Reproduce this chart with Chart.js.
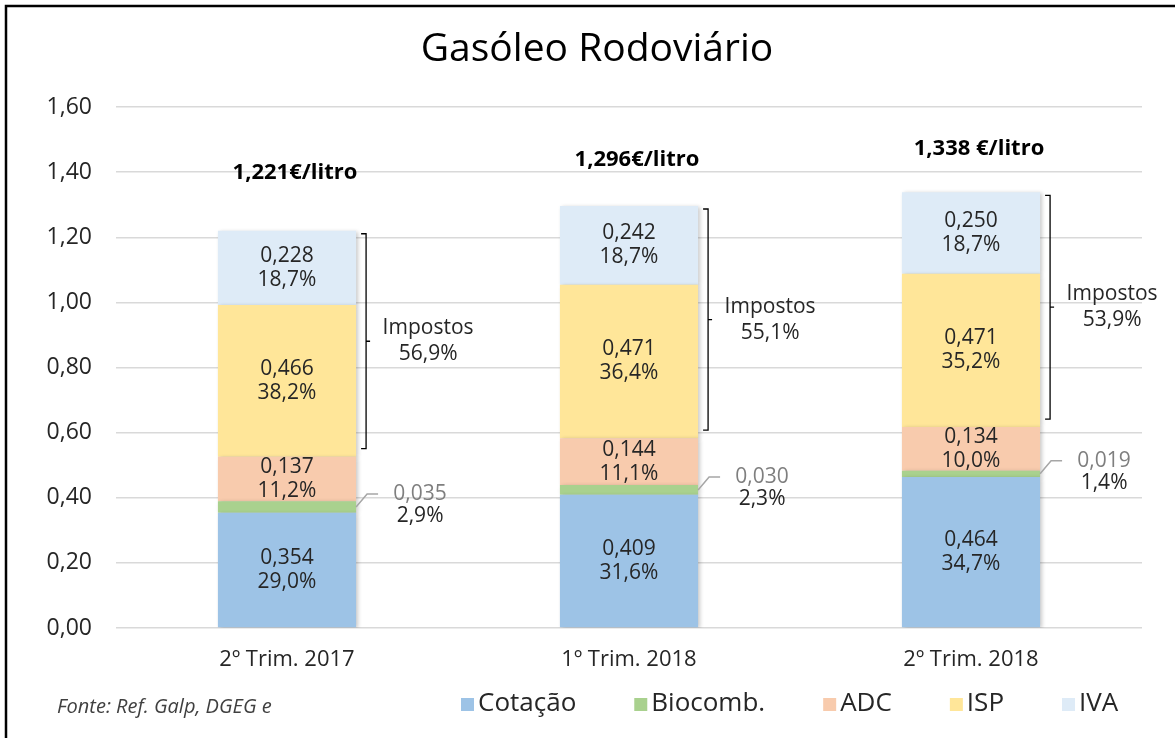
<!DOCTYPE html>
<html lang="pt">
<head>
  <meta charset="UTF-8">
  <title>Gasóleo Rodoviário</title>
  <script src="https://cdn.jsdelivr.net/npm/chart.js"></script>
  <style>
    body { margin: 0; background: #fff; }
    #wrap { position: relative; width: 1175px; height: 738px; }
  </style>
</head>
<body>
  <div id="wrap">
    <canvas id="myChart"></canvas>
  </div>
  <script>
    // dados (€/litro)
    const categories = ['2º Trim. 2017', '1º Trim. 2018', '2º Trim. 2018'];
    const cotacao = [0.354, 0.409, 0.464];
    const biocomb = [0.035, 0.030, 0.019];
    const adc = [0.137, 0.144, 0.134];
    const isp = [0.466, 0.471, 0.471];
    const iva = [0.228, 0.242, 0.250];

    // percentagens do preço total
    const cotacaoPct = [29.0, 31.6, 34.7];
    const biocombPct = [2.9, 2.3, 1.4];
    const adcPct = [11.2, 11.1, 10.0];
    const ispPct = [38.2, 36.4, 35.2];
    const ivaPct = [18.7, 18.7, 18.7];
    const impostosPct = [56.9, 55.1, 53.9];

    const totalLabels = ['1,221€/litro', '1,296€/litro', '1,338 €/litro'];
    const yTicks = [0, 0.2, 0.4, 0.6, 0.8, 1.0, 1.2, 1.4, 1.6];
    const titleText = 'Gasóleo Rodoviário';

    const FONT = '"Open Sans", sans-serif';
    const TXT = '#262626';
    const totalLift = [58, 46, 44]; // distância do total acima da barra (px)

    const num = (v, d) => v.toFixed(d).replace('.', ',');

    const labelsPlugin = {
      id: 'labels',
      beforeDatasetsDraw(chart) {
        const ctx = chart.ctx;
        ctx.save();
        ctx.shadowColor = 'rgba(0,0,0,0.22)';
        ctx.shadowBlur = 4;
        ctx.shadowOffsetX = 2;
        ctx.shadowOffsetY = 1;
      },
      afterDatasetsDraw(chart) {
        const ctx = chart.ctx;
        ctx.restore();
        ctx.save();
        ctx.textAlign = 'center';
        ctx.textBaseline = 'middle';

        chart.data.datasets.forEach((ds, i) => {
          const meta = chart.getDatasetMeta(i);
          meta.data.forEach((el, j) => {
            const cy = (el.y + el.base) / 2;
            if (i === 1) {
              // biocombustível: etiqueta fora da barra com linha de chamada
              const rx = el.x + el.width / 2;
              ctx.strokeStyle = '#a6a6a6';
              ctx.lineWidth = 1.5;
              ctx.beginPath();
              ctx.moveTo(rx, cy);
              ctx.lineTo(rx + 11, cy - 13);
              ctx.lineTo(rx + 22, cy - 13);
              ctx.stroke();
              ctx.font = '21px ' + FONT;
              ctx.fillStyle = '#7f7f7f';
              ctx.fillText(num(ds.data[j], 3), rx + 64, cy - 13);
              ctx.fillStyle = TXT;
              ctx.fillText(num(ds.pct[j], 1) + '%', rx + 64, cy + 9);
            } else {
              ctx.font = '21px ' + FONT;
              ctx.fillStyle = TXT;
              ctx.fillText(num(ds.data[j], 3), el.x, cy - 12);
              ctx.fillText(num(ds.pct[j], 1) + '%', el.x, cy + 12);
            }
          });
        });

        const ivaMeta = chart.getDatasetMeta(4);
        const ispMeta = chart.getDatasetMeta(3);
        ivaMeta.data.forEach((el, j) => {
          // total
          ctx.font = 'bold 22px ' + FONT;
          ctx.fillStyle = '#000';
          ctx.fillText(totalLabels[j], el.x + 8, el.y - totalLift[j]);

          // chaveta dos impostos
          const bx = el.x + el.width / 2 + 10;
          const top = el.y + 3;
          const bot = ispMeta.data[j].base - 8;
          const mid = (top + bot) / 2;
          ctx.strokeStyle = '#000';
          ctx.lineWidth = 1.3;
          ctx.beginPath();
          ctx.moveTo(bx - 5, top);
          ctx.lineTo(bx, top);
          ctx.lineTo(bx, bot);
          ctx.lineTo(bx - 5, bot);
          ctx.moveTo(bx, mid);
          ctx.lineTo(bx + 4, mid);
          ctx.stroke();

          ctx.font = '21px ' + FONT;
          ctx.fillStyle = TXT;
          ctx.fillText('Impostos', bx + 62, mid - 13);
          ctx.fillText(num(impostosPct[j], 1) + '%', bx + 62, mid + 13);
        });
        ctx.restore();
      },
      afterDraw(chart) {
        const ctx = chart.ctx;
        ctx.save();
        // título
        ctx.textAlign = 'center';
        ctx.textBaseline = 'middle';
        ctx.font = '39px ' + FONT;
        ctx.fillStyle = '#000';
        ctx.fillText(titleText, 597, 50);
        // legenda
        ctx.textAlign = 'left';
        ctx.font = '26px ' + FONT;
        let x = 461;
        chart.data.datasets.forEach(ds => {
          ctx.fillStyle = ds.backgroundColor;
          ctx.fillRect(x, 698, 13, 13);
          ctx.fillStyle = TXT;
          ctx.fillText(ds.label, x + 17, 704);
          x += 17 + ctx.measureText(ds.label).width + 58;
        });
        // fonte
        ctx.font = 'italic 20px ' + FONT;
        ctx.fillStyle = '#404040';
        ctx.fillText('Fonte: Ref. Galp, DGEG e', 57, 707);
        // moldura
        ctx.strokeStyle = '#000';
        ctx.lineWidth = 2.5;
        ctx.beginPath();
        ctx.moveTo(6, 738);
        ctx.lineTo(6, 6);
        ctx.lineTo(1175, 6);
        ctx.stroke();
        ctx.restore();
      }
    };

    const ctx = document.getElementById('myChart').getContext('2d');
    const chart = new Chart(ctx, {
      type: 'bar',
      data: {
        labels: categories,
        datasets: [
          { label: 'Cotação', data: cotacao, pct: cotacaoPct, backgroundColor: '#9dc3e6' },
          { label: 'Biocomb.', data: biocomb, pct: biocombPct, backgroundColor: '#a9d18e' },
          { label: 'ADC', data: adc, pct: adcPct, backgroundColor: '#f8cbad' },
          { label: 'ISP', data: isp, pct: ispPct, backgroundColor: '#ffe699' },
          { label: 'IVA', data: iva, pct: ivaPct, backgroundColor: '#deebf7' }
        ]
      },
      options: {
        responsive: true,
        maintainAspectRatio: false,
        animation: false,
        datasets: { bar: { barPercentage: 0.404, categoryPercentage: 1.0 } },
        layout: { padding: { left: 0, right: 33, top: 107, bottom: 50 } },
        plugins: {
          legend: { display: false },
          tooltip: { enabled: false },
          title: { display: false }
        },
        scales: {
          x: {
            stacked: true,
            grid: { display: false, drawTicks: false },
            border: { display: false },
            ticks: { color: TXT, padding: 19, font: { family: FONT, size: 22 } },
            afterFit(scale) { scale.height = 60; }
          },
          y: {
            stacked: true,
            min: 0,
            max: 1.6,
            afterBuildTicks(scale) { scale.ticks = yTicks.map(v => ({ value: v })); },
            grid: { color: '#d9d9d9', lineWidth: 1.5, drawTicks: false },
            border: { display: false },
            ticks: {
              color: TXT,
              padding: 24,
              font: { family: FONT, size: 23 },
              callback: v => num(v, 2)
            },
            afterFit(scale) { scale.width = 116; }
          }
        }
      },
      plugins: [labelsPlugin]
    });
  </script>
</body>
</html>
